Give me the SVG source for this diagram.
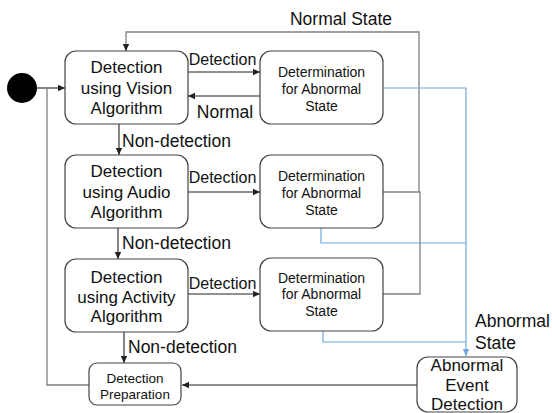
<svg xmlns="http://www.w3.org/2000/svg" width="552" height="413" viewBox="0 0 552 413">
<defs>
<marker id="ah" markerWidth="8" markerHeight="8" refX="7" refY="4" orient="auto" markerUnits="userSpaceOnUse">
<path d="M0,0.8 L7,4 L0,7.2 Z" fill="#222"/>
</marker>
<marker id="ahb" markerWidth="8" markerHeight="8" refX="7" refY="4" orient="auto" markerUnits="userSpaceOnUse">
<path d="M0,0.8 L7,4 L0,7.2 Z" fill="#6fa8dc"/>
</marker>
</defs>
<style>
.box{fill:#fff;stroke:#444;stroke-width:1.2}
.t{font-family:"Liberation Sans",Arial,sans-serif;fill:#111;text-anchor:middle}
.big{font-size:17px}
.mid{font-size:14px}
.sm{font-size:13.5px}
.lbl{font-family:"Liberation Sans",Arial,sans-serif;fill:#111;font-size:16px;text-anchor:middle}
.lbl17{font-family:"Liberation Sans",Arial,sans-serif;fill:#111;font-size:17.5px}
.e{fill:none;stroke:#222;stroke-width:1.1}
.g{fill:none;stroke:#808080;stroke-width:1.3}
.b{fill:none;stroke:#6fa8dc;stroke-width:1.2}
</style>
<rect width="552" height="413" fill="#fff"/>
<g id="connectors">
<path class="e" d="M37,88 H65" marker-end="url(#ah)"/>
<path class="g" d="M47,88 V385 H89"/>
<path class="e" d="M188,72 H260" marker-end="url(#ah)"/>
<path class="e" d="M260,96 H188" marker-end="url(#ah)"/>
<path class="e" d="M188,192 H260" marker-end="url(#ah)"/>
<path class="e" d="M188,294 H260" marker-end="url(#ah)"/>
<path class="e" d="M119,124 V155" marker-end="url(#ah)"/>
<path class="e" d="M118,228 V259" marker-end="url(#ah)"/>
<path class="e" d="M124,332 V363" marker-end="url(#ah)"/>
<path class="g" d="M383,192 H419 V32 H126 V44"/>
<path class="e" d="M126,44 V51" marker-end="url(#ah)"/>
<path class="g" d="M419,192 H420 V294 H383"/>
<path class="b" d="M383,88 H466 V356" marker-end="url(#ahb)"/>
<path class="b" d="M321,228 V243 H466"/>
<path class="b" d="M323,331 V342 H466"/>
<path class="e" d="M417,385 H182" marker-end="url(#ah)"/>
</g>
<g id="labels">
<text class="lbl" x="222.5" y="65">Detection</text>
<text class="lbl17" x="225" y="118" text-anchor="middle">Normal</text>
<text class="lbl" x="222.5" y="183">Detection</text>
<text class="lbl" x="222.5" y="289">Detection</text>
<text class="lbl17" x="122" y="147">Non-detection</text>
<text class="lbl17" x="122" y="249">Non-detection</text>
<text class="lbl17" x="128" y="353">Non-detection</text>
<text class="lbl17" x="341" y="25" text-anchor="middle">Normal State</text>
<text class="lbl17" x="475" y="327">Abnormal</text>
<text class="lbl17" x="475" y="349">State</text>
</g>
<g id="start"><circle cx="22" cy="88" r="15" fill="#000"/></g>
<g id="vision">
<rect class="box" x="65" y="51" width="123" height="73" rx="11"/>
<text class="t big" x="126.5" y="73">Detection</text>
<text class="t big" x="126.5" y="94">using Vision</text>
<text class="t big" x="126.5" y="114">Algorithm</text>
</g>
<g id="audio">
<rect class="box" x="65" y="155" width="123" height="73" rx="11"/>
<text class="t big" x="126.5" y="177">Detection</text>
<text class="t big" x="126.5" y="198">using Audio</text>
<text class="t big" x="126.5" y="218">Algorithm</text>
</g>
<g id="activity">
<rect class="box" x="65" y="259" width="123" height="73" rx="11"/>
<text class="t big" x="126.5" y="283">Detection</text>
<text class="t big" x="126.5" y="303">using Activity</text>
<text class="t big" x="126.5" y="322">Algorithm</text>
</g>
<g id="det1">
<rect class="box" x="260" y="51" width="123" height="73" rx="11"/>
<text class="t mid" x="321.5" y="77">Determination</text>
<text class="t mid" x="321.5" y="93.5">for Abnormal</text>
<text class="t mid" x="321.5" y="111">State</text>
</g>
<g id="det2">
<rect class="box" x="260" y="155" width="123" height="73" rx="11"/>
<text class="t mid" x="321.5" y="181">Determination</text>
<text class="t mid" x="321.5" y="198">for Abnormal</text>
<text class="t mid" x="321.5" y="215">State</text>
</g>
<g id="det3">
<rect class="box" x="260" y="258" width="123" height="73" rx="11"/>
<text class="t mid" x="321.5" y="283">Determination</text>
<text class="t mid" x="321.5" y="299">for Abnormal</text>
<text class="t mid" x="321.5" y="316">State</text>
</g>
<g id="prep">
<rect class="box" x="89" y="363" width="92" height="42" rx="8"/>
<text class="t sm" x="135" y="383">Detection</text>
<text class="t sm" x="135" y="399">Preparation</text>
</g>
<g id="abnormal">
<rect class="box" x="417" y="357" width="100" height="55" rx="11"/>
<text class="t big" x="467" y="371">Abnormal</text>
<text class="t big" x="467" y="391">Event</text>
<text class="t big" x="467" y="410">Detection</text>
</g>
</svg>
